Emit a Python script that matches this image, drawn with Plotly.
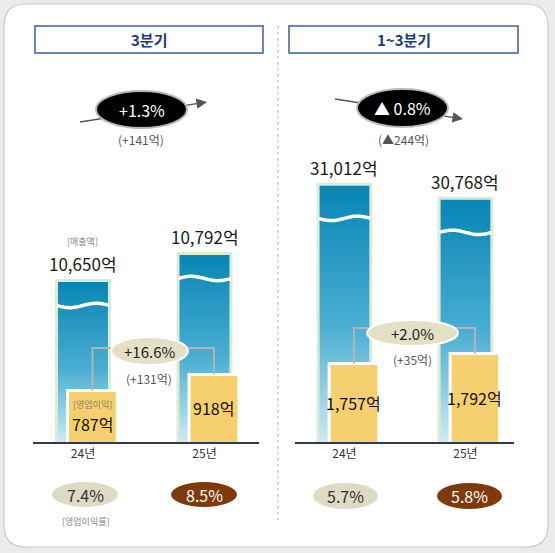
import numpy as np
import plotly.graph_objects as go

# data (억원)
years = ['24년', '25년']
panels = ['3분기', '1~3분기']
sales_q3 = [10650, 10792]
sales_cum = [31012, 30768]
op_q3 = [787, 918]
op_cum = [1757, 1792]
margin_q3 = ['7.4%', '8.5%']
margin_cum = ['5.7%', '5.8%']
sales_chg = ['+1.3%', '▲ 0.8%']
sales_diff = ['(+141억)', '(▲244억)']
op_chg = ['+16.6%', '+2.0%']
op_diff = ['(+131억)', '(+35억)']

W, H = 555, 553
FONT = 'Noto Sans CJK KR'


def px(x):
    return x / W


def py(y):
    return 1 - y / H


BASE_PX, TOP_PX = 442, 60
# broken (truncated) axes, like the original
rng_sales = [[9800, 11810], [26520, 33180]]
rng_op = [[365, 3492], [1482, 2819]]
xdom = [[33, 259], [295, 514]]
xrng = [[-0.4115, 1.4486], [-0.409, 1.401]]

fig = go.Figure()

sales = [sales_q3, sales_cum]
ops = [op_q3, op_cum]
margins = [margin_q3, margin_cum]
wave_gap = [25, 34]
conn_px = [348, 328]

for p in range(2):
    xa = 'x' if p == 0 else 'x2'
    ya_s = 'y' if p == 0 else 'y3'
    ya_o = 'y2' if p == 0 else 'y4'
    lo, hi = rng_sales[p]
    ppu = (BASE_PX - TOP_PX) / (hi - lo)
    hw = 0.218
    for i, v in enumerate(sales[p]):
        fig.add_trace(go.Scatter(
            x=[i - hw, i + hw, i + hw, i - hw, i - hw],
            y=[lo, lo, v, v, lo],
            xaxis=xa, yaxis=ya_s, mode='lines', fill='toself',
            line=dict(color='#dcecd2', width=3),
            fillgradient=dict(type='vertical', start=lo, stop=v,
                              colorscale=[[0, '#cdebf3'], [0.45, '#4aaed2'], [1, '#0785b4']]),
            hoverinfo='skip', showlegend=False))
        t = np.linspace(0, 1, 30)
        wy = v - wave_gap[p] / ppu + (2.2 / ppu) * np.sin(2 * np.pi * t) * (1 if i else -1)
        fig.add_trace(go.Scatter(
            x=i - hw + 2 * hw * t, y=wy, xaxis=xa, yaxis=ya_s, mode='lines',
            line=dict(color='white', width=3.5, shape='spline'),
            hoverinfo='skip', showlegend=False))

    olo, ohi = rng_op[p]
    oppu = (BASE_PX - TOP_PX) / (ohi - olo)
    off = 0.078
    fig.add_trace(go.Bar(
        x=[0, 1], y=ops[p], xaxis=xa, yaxis=ya_o, width=0.41, offset=off - 0.205,
        marker=dict(color='#f6d06f', line=dict(color='white', width=3)),
        hoverinfo='skip', showlegend=False))
    lvl = olo + (BASE_PX - conn_px[p]) / oppu
    fig.add_trace(go.Scatter(
        x=[off, off, 1 + off, 1 + off], y=[ops[p][0], lvl, lvl, ops[p][1]],
        xaxis=xa, yaxis=ya_o, mode='lines', line=dict(color='#b4b4b4', width=2),
        hoverinfo='skip', showlegend=False))

    # value labels
    for i, v in enumerate(sales[p]):
        fig.add_annotation(x=i, y=v, xref=xa, yref=ya_s, text=f'{v:,}억',
                           xanchor='center', yanchor='bottom', yshift=2, showarrow=False,
                           font=dict(size=17, color='#1a1a1a', family=FONT))
    for i, v in enumerate(ops[p]):
        shift = -8 if (p == 0 and i == 0) else 0
        fig.add_annotation(x=i + off, y=(v + olo) / 2, xref=xa, yref=ya_o,
                           text=f'{v:,}억', yshift=shift, showarrow=False,
                           xanchor='center', yanchor='middle',
                           font=dict(size=16, color='#111', family=FONT))

# sub label
fig.add_annotation(x=0 + 0.078, y=(op_q3[0] + rng_op[0][0]) / 2, xref='x', yref='y2',
                   text='[영업이익]', yshift=12, showarrow=False,
                   xanchor='center', yanchor='middle',
                   font=dict(size=9, color='#8c7a66', family=FONT))

# card background, title boxes, divider
shapes = []
x0, y0, x1, y1, r = 4, 4, 548, 547, 22
card = (f'M {px(x0 + r)},{py(y0)} L {px(x1 - r)},{py(y0)} Q {px(x1)},{py(y0)} {px(x1)},{py(y0 + r)} '
        f'L {px(x1)},{py(y1 - r)} Q {px(x1)},{py(y1)} {px(x1 - r)},{py(y1)} '
        f'L {px(x0 + r)},{py(y1)} Q {px(x0)},{py(y1)} {px(x0)},{py(y1 - r)} '
        f'L {px(x0)},{py(y0 + r)} Q {px(x0)},{py(y0)} {px(x0 + r)},{py(y0)} Z')
shapes.append(dict(type='path', path=card, xref='paper', yref='paper', layer='below',
                   fillcolor='white', line=dict(color='#c9c9c9', width=1.2)))
shapes.append(dict(type='line', xref='paper', yref='paper', x0=px(278), x1=px(278),
                   y0=py(26), y1=py(520), line=dict(color='#cfcfcf', width=1.5, dash='dot')))
for bx0, bx1 in [(35, 263), (289, 518)]:
    shapes.append(dict(type='rect', xref='paper', yref='paper', x0=px(bx0), x1=px(bx1),
                       y0=py(26), y1=py(53), fillcolor='white',
                       line=dict(color='#3d5c9e', width=1.5)))

# sales change arrows + black ovals
arrows = [((80, 122), (207, 102), (96, 187, 91, 128)),
          ((335, 99), (463, 119), (357, 448, 89, 127))]
for (ax0, ay0), (ax1, ay1), (ox0, ox1, oy0, oy1) in arrows:
    shapes.append(dict(type='line', xref='paper', yref='paper', x0=px(ax0), y0=py(ay0),
                       x1=px(ax1 - 4), y1=py(ay1 - (ay1 - ay0) * 4 / (ax1 - ax0)),
                       line=dict(color='#555', width=1.5)))
    shapes.append(dict(type='circle', xref='paper', yref='paper', x0=px(ox0), x1=px(ox1),
                       y0=py(oy1), y1=py(oy0), fillcolor='black',
                       line=dict(color='#b8b8b8', width=2)))
    fig.add_annotation(x=px(ax1), y=py(ay1), xref='paper', yref='paper', text='',
                       showarrow=True, arrowhead=2, arrowsize=1.4, arrowwidth=1.5,
                       arrowcolor='#555', ax=-12, ay=-(ay1 - ay0) * 12 / (ax1 - ax0))

# op change ovals
for ox0, ox1, oy0, oy1 in [(111, 188, 337, 365), (367, 458, 320, 346)]:
    shapes.append(dict(type='circle', xref='paper', yref='paper', x0=px(ox0), x1=px(ox1),
                       y0=py(oy1), y1=py(oy0), fillcolor='#e3e0c6',
                       line=dict(color='white', width=2)))

# margin pills
pill_x = [[(52, 118), (171, 237)], [(313, 378), (437, 502)]]
pill_y = [(482, 507), (483, 509)]
for p in range(2):
    for i in range(2):
        a, b = pill_x[p][i]
        shapes.append(dict(type='circle', xref='paper', yref='paper', x0=px(a), x1=px(b),
                           y0=py(pill_y[p][1]), y1=py(pill_y[p][0]),
                           fillcolor='#dedac3' if i == 0 else '#7e3a0b', line_width=0))
        fig.add_annotation(x=px((a + b) / 2), y=py(sum(pill_y[p]) / 2), xref='paper', yref='paper',
                           text=margins[p][i], showarrow=False,
                           xanchor='center', yanchor='middle',
                           font=dict(size=16, color='#333' if i == 0 else 'white', family=FONT))

fig.update_layout(shapes=shapes)

texts = [
    (149, 40, panels[0], 15, '#1e3a78', True),
    (403.5, 40, panels[1], 15, '#1e3a78', True),
    (141.5, 110, sales_chg[0], 16, 'white', False),
    (402.5, 108, sales_chg[1], 16, 'white', False),
    (141, 139, sales_diff[0], 12, '#555', False),
    (403, 139, sales_diff[1], 12, '#555', False),
    (149.5, 351, op_chg[0], 15, '#222', False),
    (412.5, 333, op_chg[1], 15, '#222', False),
    (149, 378, op_diff[0], 12, '#555', False),
    (412, 359, op_diff[1], 12, '#555', False),
    (82, 241, '[매출액]', 9, '#888', False),
    (85, 521, '[영업이익률]', 9, '#888', False),
]
for tx, ty, s, size, col, bold in texts:
    fig.add_annotation(x=px(tx), y=py(ty), xref='paper', yref='paper',
                       text=f'<b>{s}</b>' if bold else s, showarrow=False,
                       xanchor='center', yanchor='middle',
                       font=dict(size=size, color=col, family=FONT))

axis_x = dict(tickvals=[0, 1], ticktext=years, showline=True, linecolor='#2d3a50',
              linewidth=2, showgrid=False, zeroline=False, ticks='', fixedrange=True,
              ticklabelstandoff=0, tickfont=dict(size=12, color='#333', family=FONT))
axis_y = dict(visible=False, fixedrange=True, showgrid=False, zeroline=False)
ydom = [py(BASE_PX), py(TOP_PX)]

fig.update_layout(
    width=W, height=H, margin=dict(l=0, r=0, t=0, b=0),
    paper_bgcolor='#ebebeb', plot_bgcolor='rgba(0,0,0,0)',
    font=dict(family=FONT),
    xaxis=dict(axis_x, domain=[px(xdom[0][0]), px(xdom[0][1])], range=xrng[0], anchor='y'),
    xaxis2=dict(axis_x, domain=[px(xdom[1][0]), px(xdom[1][1])], range=xrng[1], anchor='y3'),
    yaxis=dict(axis_y, domain=ydom, range=rng_sales[0], anchor='x'),
    yaxis2=dict(axis_y, domain=ydom, range=rng_op[0], anchor='x', overlaying='y'),
    yaxis3=dict(axis_y, domain=ydom, range=rng_sales[1], anchor='x2'),
    yaxis4=dict(axis_y, domain=ydom, range=rng_op[1], anchor='x2', overlaying='y3'),
)

# the page body has an 8px default margin; drop it so the figure fills the window
fig.write_html('out.html', config={'displayModeBar': False},
               post_script="document.body.style.margin='0';")
